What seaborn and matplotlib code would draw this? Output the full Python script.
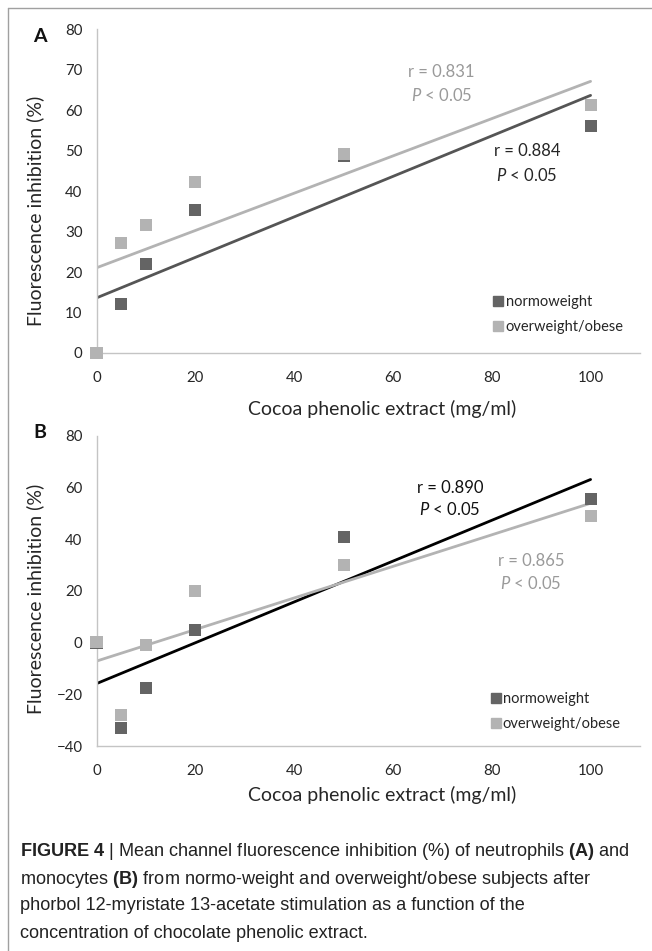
import matplotlib
matplotlib.use("Agg")
import matplotlib.pyplot as plt
import seaborn as sns
import pandas as pd
from matplotlib.lines import Line2D
from matplotlib import font_manager

# ---------------- data ----------------
conc = [0, 5, 10, 20, 50, 100]
a_normo = [0, 12.1, 22.0, 35.4, 48.6, 56.2]
a_over = [0, 27.1, 31.6, 42.3, 49.2, 61.4]
b_normo = [0, -32.9, -17.5, 5.0, 40.7, 55.5]
b_over = [0.3, -28.1, -1.0, 20.0, 29.9, 48.8]
groups = ["normoweight", "overweight/obese"]
x_ticks = [0, 20, 40, 60, 80, 100]
a_yticks = [0, 10, 20, 30, 40, 50, 60, 70, 80]
b_yticks = [-40, -20, 0, 20, 40, 60, 80]
a_stats = ["r = 0.831", "r = 0.884"]   # over, normo
b_stats = ["r = 0.865", "r = 0.890"]   # over, normo

# ---------------- fonts ----------------
def has_font(name):
    try:
        font_manager.findfont(name, fallback_to_default=False)
        return True
    except Exception:
        return False

chart_font = "Lato" if has_font("Lato") else "DejaVu Sans"
cap_font = "Liberation Sans Narrow" if has_font("Liberation Sans Narrow") else "Liberation Sans"

sns.set_theme(style="white")
plt.rcParams["font.family"] = [chart_font, "DejaVu Sans"]
plt.rcParams["mathtext.fontset"] = "custom"
plt.rcParams["mathtext.rm"] = cap_font
plt.rcParams["mathtext.bf"] = cap_font + ":bold"
plt.rcParams["mathtext.it"] = chart_font + ":italic"

C_DARK = "#646464"
C_LIGHT = "#b3b3b3"
C_AXIS = "#c4c4c4"
C_TEXT = "#262626"

W, H = 652, 951
fig = plt.figure(figsize=(W / 100, H / 100), dpi=100)

def px_ax(l, t, r, b):
    return fig.add_axes([l / W, 1 - b / H, (r - l) / W, (b - t) / H])

axA = px_ax(96.5, 29.3, 640, 353)
axB = px_ax(96.5, 435.7, 640, 746)

def make_df(normo, over):
    return pd.DataFrame({
        "conc": conc * 2,
        "value": list(normo) + list(over),
        "group": [groups[0]] * len(conc) + [groups[1]] * len(conc),
    })

def draw_panel(ax, normo, over, normo_line_color, yticks, ylim, xl_y, yl_y):
    df = make_df(normo, over)
    sns.regplot(data=df[df.group == groups[0]], x="conc", y="value", ax=ax,
                scatter=False, ci=None, color=normo_line_color,
                line_kws=dict(lw=2.0, zorder=2))
    sns.regplot(data=df[df.group == groups[1]], x="conc", y="value", ax=ax,
                scatter=False, ci=None, color=C_LIGHT,
                line_kws=dict(lw=2.0, zorder=2))
    sns.scatterplot(data=df, x="conc", y="value", hue="group",
                    palette={groups[0]: C_DARK, groups[1]: C_LIGHT},
                    marker="s", s=75, linewidth=0, ax=ax, zorder=3,
                    legend=False, clip_on=False)
    ax.set_xlim(0, 110)
    ax.set_ylim(*ylim)
    ax.set_xticks(x_ticks)
    ax.set_yticks(yticks)
    for s in ["top", "right"]:
        ax.spines[s].set_visible(False)
    for s in ["left", "bottom"]:
        ax.spines[s].set_color(C_AXIS)
        ax.spines[s].set_linewidth(1.0)
    ax.tick_params(axis="both", direction="out", length=3, width=1,
                   color=C_AXIS, labelsize=10.8, labelcolor=C_TEXT)
    ax.tick_params(axis="y", pad=7)
    ax.tick_params(axis="x", pad=10)
    ax.set_xlabel("Cocoa phenolic extract (mg/ml)", fontsize=14, color=C_TEXT)
    ax.set_ylabel("Fluorescence inhibition (%)", fontsize=14, color=C_TEXT)
    ax.xaxis.set_label_coords(0.525, xl_y)
    ax.yaxis.set_label_coords(-0.0966, yl_y)
    ax.grid(False)
    handles = [Line2D([], [], marker="s", ls="", color=C_DARK, markersize=7.5),
               Line2D([], [], marker="s", ls="", color=C_LIGHT, markersize=7.5)]
    ax.legend(handles, groups, loc="center left", frameon=False,
              fontsize=10.5, handletextpad=0.0, labelspacing=0.75,
              handlelength=1.0, borderaxespad=0, labelcolor=C_TEXT)

draw_panel(axA, a_normo, a_over, "#555555", a_yticks, (0, 80), -0.145, 0.44)
draw_panel(axB, b_normo, b_over, "#000000", b_yticks, (-40, 80), -0.128, 0.474)
axA.get_legend().set_bbox_to_anchor((0.715, 0.12))
axB.get_legend().set_bbox_to_anchor((0.71, 0.11))

# Correlation annotations
def stat(ax, x, y, rtxt, color):
    ax.text(x, y, rtxt, ha="center", va="center", fontsize=12, color=color)
    ax.text(x, y - (5.9 if ax is axA else 8.4), r"$P$ < 0.05", ha="center",
            va="center", fontsize=12, color=color)

stat(axA, 69.8, 69.5, a_stats[0], "#9a9a9a")
stat(axA, 87.1, 49.8, a_stats[1], C_TEXT)
stat(axB, 71.5, 59.7, b_stats[1], "#111111")
stat(axB, 87.9, 31.4, b_stats[0], "#9a9a9a")

# Panel letters
fig.text(40 / W, 1 - 37 / H, "A", fontsize=14, fontweight="bold", color="#111111",
         ha="center", va="center")
fig.text(40 / W, 1 - 432 / H, "B", fontsize=14, fontweight="bold", color="#111111",
         ha="center", va="center")

# Frame lines
fig.add_artist(Line2D([8 / W, 1], [1 - 8 / H, 1 - 8 / H], color="#a0a0a0", lw=1.0))
fig.add_artist(Line2D([8 / W, 8 / W], [0, 1 - 8 / H], color="#a0a0a0", lw=1.0))

# Caption
cap_lines = [
    r"$\mathbf{FIGURE\ 4}$ | Mean channel fluorescence inhibition (%) of neutrophils $\mathbf{(A)}$ and",
    r"monocytes $\mathbf{(B)}$ from normo-weight and overweight/obese subjects after",
    "phorbol 12-myristate 13-acetate stimulation as a function of the",
    "concentration of chocolate phenolic extract.",
]
cap_y = [851, 879, 905, 933]
for line, yc in zip(cap_lines, cap_y):
    fig.text(20 / W, 1 - (yc + 5.5) / H, line, fontsize=13.1, color="#222222",
             family=[cap_font, "DejaVu Sans"], ha="left", va="baseline")

fig.savefig("out.png", dpi=100)
